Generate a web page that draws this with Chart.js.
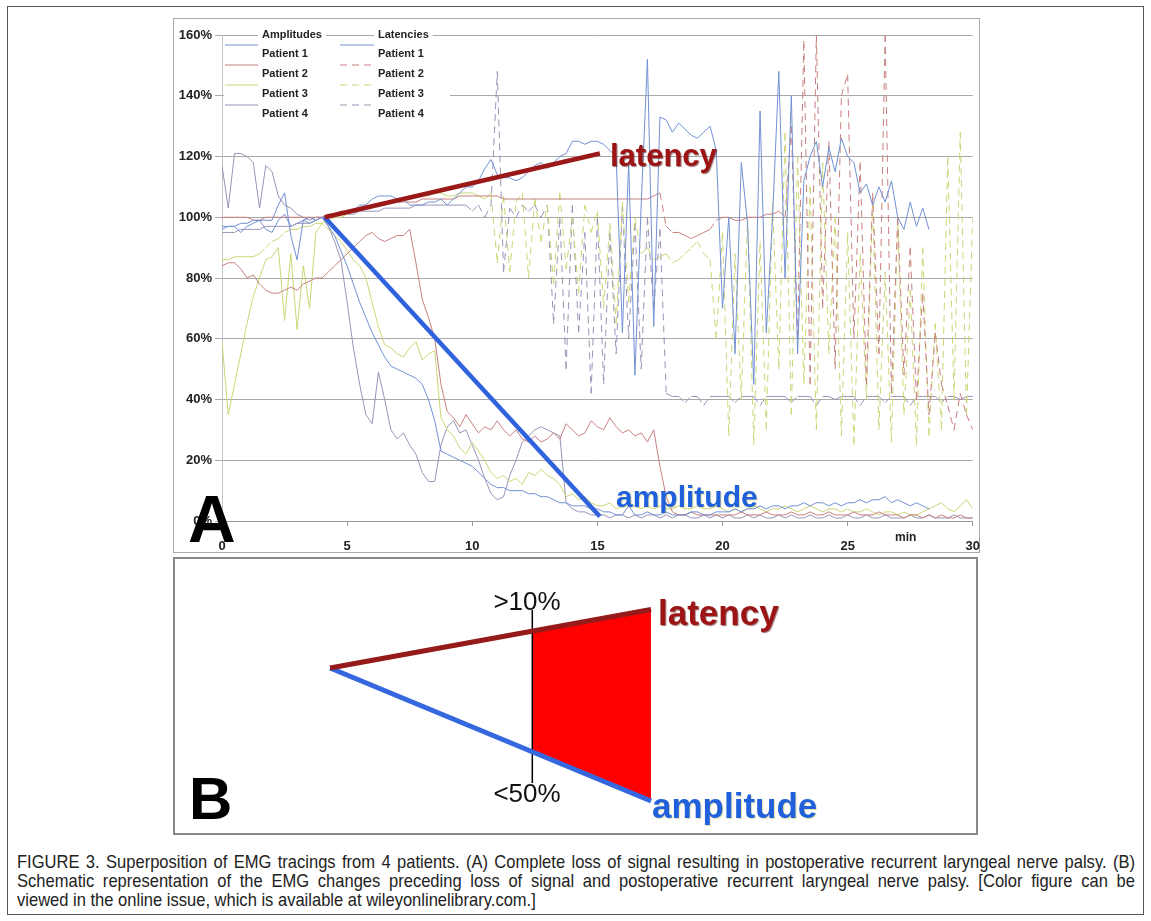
<!DOCTYPE html>
<html>
<head>
<meta charset="utf-8">
<script src="https://cdn.jsdelivr.net/npm/chart.js@4.4.1/dist/chart.umd.min.js"></script>
<style>
  body { margin: 0; background: #fff; width: 1151px; height: 921px; position: relative; overflow: hidden;
         font-family: "Liberation Sans", Arial, sans-serif; }
  .box { position: absolute; box-sizing: border-box; }
  #frame { left: 7px; top: 6px; width: 1137px; height: 909px; border: 1px solid #555; }
  #boxA { left: 173px; top: 18px; width: 807px; height: 535px; border: 1px solid #aaa; }
  #boxB { left: 173px; top: 557px; width: 805px; height: 278px; border: 2px solid #888; }
  canvas { position: absolute; }
  #chartA { left: 173px; top: 18px; }
  #chartB { left: 175px; top: 559px; }
  .lbl { position: absolute; white-space: nowrap; line-height: 1; }
  .big { font-weight: bold; color: #000; }
  .lat { font-weight: bold; color: #9c1414; text-shadow: 1px 1px 1px rgba(70,0,0,0.55); }
  .amp { font-weight: bold; color: #2060dc; text-shadow: 1px 1px 1px rgba(200,200,120,0.6); }
  .pct { font-size: 26px; color: #111; width: 80px; text-align: center; }
  #caption { position: absolute; left: 17px; top: 852px; width: 1285px; color: #222;
             font-family: "Liberation Sans", Arial, sans-serif; font-size: 19px; line-height: 19px;
             transform: scaleX(0.87); transform-origin: 0 0; }
  #caption div { white-space: nowrap; }
  #caption .j { text-align: justify; text-align-last: justify; }
</style>
</head>
<body>
<div id="frame" class="box"></div>
<div id="boxA" class="box"></div>
<div id="boxB" class="box"></div>
<canvas id="chartA" width="820" height="534"></canvas>
<canvas id="chartB" width="800" height="273"></canvas>

<div class="lbl big" style="left:188px; top:486px; font-size:66px;">A</div>
<div class="lbl lat" style="left:610px; top:140px; font-size:31px;">latency</div>
<div class="lbl amp" style="left:616px; top:482px; font-size:30px;">amplitude</div>
<div class="lbl" style="left:895px; top:531px; font-size:12px; font-weight:bold; color:#222;">min</div>

<div class="lbl big" style="left:189px; top:769px; font-size:60px;">B</div>
<div class="lbl pct" style="left:487px; top:588px;">&gt;10%</div>
<div class="lbl pct" style="left:487px; top:780px;">&lt;50%</div>
<div class="lbl lat" style="left:658px; top:595px; font-size:35px;">latency</div>
<div class="lbl amp" style="left:652px; top:788px; font-size:35px;">amplitude</div>

<div id="caption">
  <div class="j">FIGURE 3. Superposition of EMG tracings from 4 patients. (A) Complete loss of signal resulting in postoperative recurrent laryngeal nerve palsy. (B)</div>
  <div class="j">Schematic representation of the EMG changes preceding loss of signal and postoperative recurrent laryngeal nerve palsy. [Color figure can be</div>
  <div>viewed in the online issue, which is available at wileyonlinelibrary.com.]</div>
</div>

<script>
// sampled every 0.25 min, values in % of baseline
const TIME_STEP_MIN = 0.25;

const AMP_P1 = [
  96, 97, 97, 95, 97, 98, 99, 96, 95, 99, 101, 97, 98, 99, 100, 99, 100, 97, 94, 89,
  84, 78, 72, 67, 62, 58, 54, 51, 50, 49, 48, 47, 45, 40, 33, 23, 22, 21, 20, 19,
  18, 16, 14, 12, 11, 11, 10, 10, 10, 9, 9, 8, 8, 7, 6, 6, 5, 5, 5, 4,
  4, 3, 3, 2, 2, 5, 2, 2, 3, 2, 2, 3, 2, 2, 2, 3, 3, 2, 2, 3,
  3, 3, 4, 3, 4, 4, 5, 4, 5, 5, 4, 5, 5, 6, 5, 6, 6, 5, 6, 5,
  6, 6, 7, 6, 7, 7, 8, 6, 7, 6, 5, 6, 5, 4, null, null, null, null, null, null, null
];
const AMP_P2 = [
  84, 85, 85, 83, 80, 81, 78, 76, 75, 75, 76, 77, 76, 78, 79, 80, 80, 82, 84, 86,
  88, 90, 92, 94, 95, 93, 92, 93, 94, 94, 96, 85, 73, 67, 60, 45, 36, 34, 31, 35,
  32, 29, 31, 30, 33, 30, 28, 30, 27, 26, 28, 26, 27, 29, 27, 32, 30, 28, 29, 33,
  31, 30, 34, 31, 29, 30, 28, 29, 26, 30, 18, 8, 3, 2, 2, 3, 2, 2, 2, 2,
  2, 2, 2, 3, 2, 2, 2, 3, 2, 2, 2, 3, 2, 2, 3, 2, 2, 3, 2, 2,
  2, 3, 2, 2, 2, 3, 2, 2, 2, 1, 2, 2, 1, 2, 1, 2, 1, 1, 2, 1, 1
];
const AMP_P3 = [
  59, 35, 45, 55, 65, 74, 80, 86, 87, 90, 66, 88, 63, 84, 70, 95, 98, 96, 94, 92,
  89, 86, 84, 80, 72, 64, 58, 57, 55, 54, 57, 59, 53, 55, 56, 34, 30, 28, 24, 22,
  26, 23, 20, 16, 14, 15, 13, 14, 12, 16, 15, 17, 15, 14, 12, 8, 9, 7, 8, 6,
  5, 5, 6, 4, 5, 6, 5, 4, 5, 4, 5, 4, 4, 5, 4, 4, 5, 4, 4, 5,
  4, 3, 4, 3, 4, 5, 4, 3, 4, 4, 5, 4, 3, 4, 5, 4, 3, 4, 4, 3,
  4, 3, 3, 4, 3, 2, 3, 3, 2, 3, 2, 2, 3, 4, 5, 6, 4, 3, 5, 7, 4
];
const AMP_P4 = [
  117, 103, 121, 121, 120, 118, 103, 117, 115, 107, 104, 103, 101, 100, 99, 100, 100, 97, 92, 86,
  72, 57, 45, 35, 32, 49, 40, 30, 27, 29, 25, 22, 16, 13, 13, 25, 31, 33, 29, 30,
  25, 20, 14, 9, 7, 8, 15, 20, 26, 28, 30, 31, 30, 29, 28, 6, 4, 3, 3, 2,
  2, 2, 1, 2, 2, 1, 2, 1, 2, 2, 1, 2, 1, 2, 2, 1, 1, 2, 1, 2,
  1, 2, 1, 1, 2, 1, 2, 1, 1, 2, 1, 2, 1, 1, 2, 1, 1, 2, 1, 1,
  2, 1, 1, 2, 1, 1, 2, 1, 1, 1, 2, 1, 1, 2, 1, 1, 1, 2, 1, 1, 1
];

const LAT_P1 = [
  97, 97, 97, 98, 98, 99, 99, 99, 99, 104, 108, 94, 86, 99, 98, 99, 100, 100, 101, 101,
  102, 102, 104, 104, 106, 107, 107, 107, 106, 106, 104, 104, 104, 105, 105, 106, 104, 106, 108, 110,
  110, 112, 116, 119, 114, 113, 113, 112, 113, 115, 117, 118, 116, 118, 120, 121, 125, 125, 124, 125,
  125, 124, 122, 120, 62, 118, 48, 104, 152, 64, 133, 132, 128, 131, 129, 127, 126, 128, 130, 122,
  70, 100, 55, 118, 98, 45, 135, 62, 100, 148, 80, 140, 55, 112, 120, 125, 110, 123, 115, 126,
  120, 118, 108, 111, 104, 110, 105, 112, 100, 96, 105, 97, 103, 96, null, null, null, null, null, null, null
];
const LAT_P2 = [
  100, 100, 100, 100, 100, 99, 99, 100, 100, 100, 100, 100, 100, 100, 100, 100, 100, 101, 101, 102,
  102, 102, 103, 103, 104, 104, 104, 105, 105, 105, 105, 105, 106, 106, 106, 106, 106, 106, 107, 107,
  107, 107, 107, 107, 107, 106, 106, 106, 106, 106, 106, 106, 106, 106, 106, 106, 106, 106, 106, 106,
  106, 106, 106, 106, 106, 106, 106, 106, 106, 107, 108, 97, 95, 95, 94, 93, 94, 95, 96, 99,
  100, 100, 99, 99, 100, 100, 100, 101, 101, 102, 100, 130, 60, 158, 45, 160, 70, 125, 50, 140,
  147, 60, 118, 45, 108, 55, 160, 42, 100, 48, 90, 40, 75, 35, 62, 45, 38, 30, 42, 35, 30
];
const LAT_P3 = [
  86, 86, 87, 87, 87, 87, 88, 90, 92, 93, 95, 96, 96, 97, 97, 98, 98, 99, 100, 100,
  101, 102, 102, 103, 104, 104, 105, 105, 106, 106, 106, 107, 107, 107, 108, 108, 107, 107, 108, 108,
  108, 107, 106, 108, 85, 107, 82, 105, 108, 80, 106, 92, 104, 78, 108, 83, 100, 75, 104, 95,
  102, 70, 98, 65, 105, 72, 100, 88, 90, 86, 87, 88, 85, 86, 88, 90, 92, 88, 86, 60,
  95, 28, 88, 40, 100, 25, 92, 30, 105, 50, 128, 35, 120, 45, 110, 30, 118, 55, 100, 28,
  95, 25, 88, 40, 105, 30, 82, 26, 98, 35, 76, 25, 90, 28, 65, 30, 120, 40, 128, 35, 100
];
const LAT_P4 = [
  95, 95, 95, 96, 96, 96, 96, 97, 97, 97, 97, 97, 98, 98, 98, 99, 100, 100, 100, 101,
  101, 101, 102, 102, 102, 102, 103, 103, 103, 103, 103, 104, 104, 104, 104, 104, 104, 104, 104, 104,
  102, 104, 100, 104, 148, 82, 103, 100, 104, 102, 104, 100, 104, 65, 100, 50, 104, 62, 95, 42,
  100, 45, 95, 55, 104, 60, 98, 50, 100, 70, 96, 42, 41, 41, 39, 41, 41, 38, 41, 41,
  41, 41, 39, 41, 41, 41, 38, 41, 41, 41, 41, 39, 41, 41, 41, 38, 41, 41, 40, 41,
  41, 41, 38, 41, 41, 41, 39, 41, 41, 41, 38, 41, 41, 41, 41, 39, 41, 41, 40, 41, 41
];

// thick pointer lines drawn over the tracings
const POINTER_T = [4.1, 15.1];
const LATENCY_POINTER = [100, 121];
const AMPLITUDE_POINTER = [100, 1.5];

const PATIENTS = ['Patient 1', 'Patient 2', 'Patient 3', 'Patient 4'];
const PATIENT_COLORS = ['#7191d3', '#c7807f', '#cdd576', '#9a93b8'];
const LATENCY_DASHED = [false, true, true, true];
const X_TICKS = [0, 5, 10, 15, 20, 25, 30];
const Y_TICKS = [0, 20, 40, 60, 80, 100, 120, 140, 160];

// schematic (panel B)
const B_T = [0, 10];
const B_LATENCY = [100, 122];
const B_AMPLITUDE = [100, 50];
const B_MARK_T = 6.3;
const B_MARK_RANGE = [121.8, 56.8];
const B_ZONE_TOP = [113.9, 122];
const B_ZONE_BOTTOM = [68.5, 50];

Chart.defaults.font.family = '"Liberation Sans", Arial, sans-serif';
Chart.defaults.color = '#222';

const xy = (ts, vs) => vs.map((v, i) => ({ x: ts[i], y: v }));
const TIME = AMP_P1.map((_, i) => i * TIME_STEP_MIN);

function trace(label, values, color, dashed, order) {
  const ds = {
    label, data: xy(TIME, values), borderColor: color, borderWidth: 1,
    pointRadius: 0, tension: 0, order
  };
  if (dashed) {
    // restart the dash on every segment so short flat steps stay solid
    ds.borderDash = [7, 5];
    ds.segment = { borderDashOffset: c => (c.p0DataIndex % 2) * 0.01 };
  }
  return ds;
}

const ampSeries = [AMP_P1, AMP_P2, AMP_P3, AMP_P4];
const latSeries = [LAT_P1, LAT_P2, LAT_P3, LAT_P4];
const datasetsA = [
  { label: 'latency', data: xy(POINTER_T, LATENCY_POINTER), borderColor: '#9a1818', borderWidth: 4.5, pointRadius: 0, order: 0 },
  { label: 'amplitude', data: xy(POINTER_T, AMPLITUDE_POINTER), borderColor: '#2f62dc', borderWidth: 4.5, pointRadius: 0, order: 0 }
];
latSeries.forEach((s, i) => datasetsA.push(trace('Latency ' + PATIENTS[i], s, PATIENT_COLORS[i], LATENCY_DASHED[i], 2 + i)));
ampSeries.forEach((s, i) => datasetsA.push(trace('Amplitude ' + PATIENTS[i], s, PATIENT_COLORS[i], false, 6 + i)));

// Excel-style legend box in the top-left corner of the plot
const boxLegend = {
  id: 'boxLegend',
  afterDatasetsDraw(chart) {
    const ctx = chart.ctx;
    const L = chart.chartArea.left, T = chart.chartArea.top;
    const cols = [
      { title: 'Amplitudes', textX: L + 40, lineX: [L + 3, L + 36], dashed: [false, false, false, false] },
      { title: 'Latencies', textX: L + 156, lineX: [L + 118, L + 152], dashed: LATENCY_DASHED }
    ];
    ctx.save();
    ctx.fillStyle = '#fff';
    ctx.fillRect(L + 2, T + 7, 226, 82);
    ctx.font = 'bold 11px "Liberation Sans", Arial, sans-serif';
    ctx.textBaseline = 'middle';
    cols.forEach(col => {
      const w = ctx.measureText(col.title).width;
      ctx.fillStyle = '#fff';
      ctx.fillRect(col.textX - 4, T - 7, w + 8, 14);
      ctx.fillStyle = '#222';
      ctx.fillText(col.title, col.textX, T);
      PATIENTS.forEach((p, i) => {
        const rowY = T + 19 + i * 20;
        ctx.fillStyle = '#222';
        ctx.fillText(p, col.textX, rowY);
        ctx.strokeStyle = PATIENT_COLORS[i];
        ctx.lineWidth = 1;
        ctx.setLineDash(col.dashed[i] ? [7, 5] : []);
        ctx.beginPath();
        ctx.moveTo(col.lineX[0], rowY - 9);
        ctx.lineTo(col.lineX[1], rowY - 9);
        ctx.stroke();
      });
    });
    ctx.restore();
  }
};

new Chart(document.getElementById('chartA'), {
  type: 'line',
  data: { datasets: datasetsA },
  plugins: [boxLegend],
  options: {
    responsive: false, animation: false, devicePixelRatio: 1,
    layout: { padding: { top: 17, right: 0, left: 0, bottom: 0 } },
    plugins: { legend: { display: false }, tooltip: { enabled: false } },
    scales: {
      x: {
        type: 'linear', min: 0, max: 30,
        afterFit: s => { s.height = 31; },
        afterBuildTicks: s => { s.ticks = X_TICKS.map(v => ({ value: v })); },
        ticks: { padding: 13, maxRotation: 0, font: { size: 13, weight: 'bold' }, color: '#222' },
        grid: { drawOnChartArea: false, tickLength: 5, color: '#999' },
        border: { color: '#9a9a9a' }
      },
      y: {
        min: 0, max: 160,
        afterFit: s => { s.width = 49; },
        afterBuildTicks: s => { s.ticks = Y_TICKS.map(v => ({ value: v })); },
        ticks: { padding: 3, callback: v => v + '%', font: { size: 13, weight: 'bold' }, color: '#222' },
        grid: { color: '#a9a9a9', tickLength: 7 },
        border: { color: '#c4c4c4' }
      }
    }
  }
});

new Chart(document.getElementById('chartB'), {
  type: 'line',
  data: {
    datasets: [
      { label: 'latency', data: xy(B_T, B_LATENCY), borderColor: '#951a1a', borderWidth: 5, order: 0 },
      { label: 'amplitude', data: xy(B_T, B_AMPLITUDE), borderColor: '#3568de', borderWidth: 5, order: 0 },
      { label: 'threshold', data: xy([B_MARK_T, B_MARK_T], B_MARK_RANGE), borderColor: '#000', borderWidth: 1.5, order: 1 },
      { label: 'zone', data: xy([B_MARK_T, B_T[1]], B_ZONE_TOP), borderWidth: 0, fill: '+1', backgroundColor: '#ff0000', order: 3 },
      { label: 'zone base', data: xy([B_MARK_T, B_T[1]], B_ZONE_BOTTOM), borderWidth: 0, order: 4 }
    ]
  },
  options: {
    responsive: false, animation: false, devicePixelRatio: 1,
    layout: { padding: 0 },
    elements: { point: { radius: 0 }, line: { tension: 0, borderCapStyle: 'butt' } },
    plugins: { legend: { display: false }, tooltip: { enabled: false } },
    scales: {
      x: { type: 'linear', display: false, min: -4.83, max: 20.09 },
      y: { display: false, min: 38.35, max: 140.98 }
    }
  }
});
</script>
</body>
</html>
